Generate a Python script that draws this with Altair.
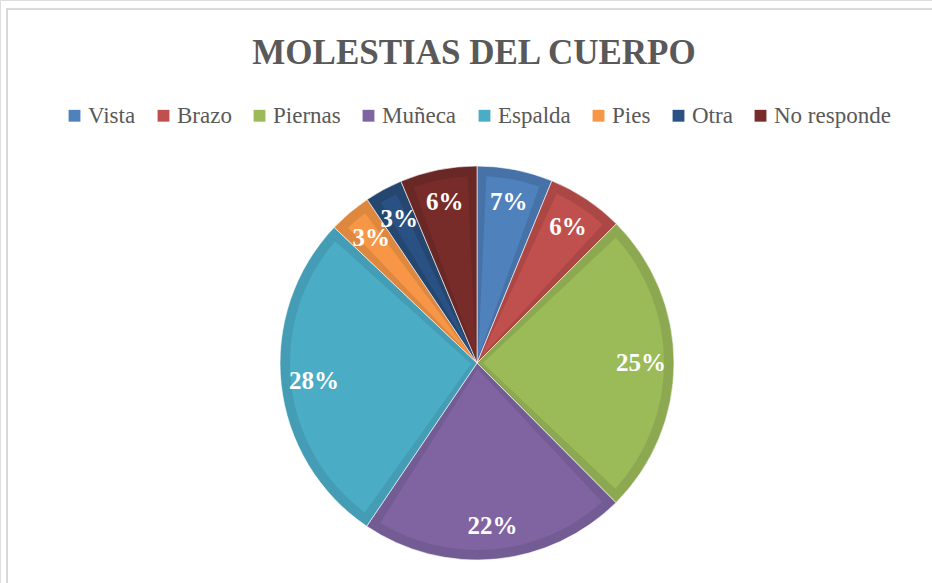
import altair as alt
import pandas as pd

TITLE = "MOLESTIAS DEL CUERPO"
categories = ["Vista", "Brazo", "Piernas", "Muñeca", "Espalda", "Pies", "Otra", "No responde"]
shares = [6.2, 6.3, 25.0, 21.9, 27.6, 3.5, 3.1, 6.3]
labels = ["7%", "6%", "25%", "22%", "28%", "3%", "3%", "6%"]
fill_colors = ["#4F81BD", "#C0504D", "#9BBB59", "#8064A2", "#4BACC6", "#F79646", "#2A5184", "#772C2A"]
edge_colors = ["#4672A8", "#AB4744", "#8CA951", "#735B93", "#449DB5", "#DE873F", "#24466F", "#692725"]

df = pd.DataFrame({
    "cat": categories,
    "value": shares,
    "label": labels,
    "edge": edge_colors,
    "idx": list(range(len(categories))),
})

CX, CY, R = 477, 363, 197
SERIF = "Liberation Serif"

base = alt.Chart(df).encode(
    theta=alt.Theta("value:Q", stack=True),
    order=alt.Order("idx:Q", sort="ascending"),
    x=alt.value(CX),
    y=alt.value(CY),
)

dark = base.mark_arc(outerRadius=R, stroke="#ffffff", strokeWidth=0.6).encode(
    color=alt.Color("edge:N", scale=None, legend=None)
)

light = base.mark_arc(outerRadius=R - 10, innerRadius=6, padAngle=0.1).encode(
    color=alt.Color(
        "cat:N",
        scale=alt.Scale(domain=categories, range=fill_colors),
        sort=categories,
        legend=alt.Legend(
            title=None,
            orient="none",
            legendX=63,
            legendY=104,
            direction="horizontal",
            columns=8,
            symbolType="square",
            symbolSize=140,
            symbolStrokeWidth=0,
            labelFont=SERIF,
            labelFontSize=23,
            labelColor="#595959",
            labelOffset=2,
            columnPadding=16,
        ),
    )
)

text = base.mark_text(
    radius=164, font=SERIF, fontSize=25, fontWeight="bold", color="white"
).encode(text="label:N")

title = alt.Chart(pd.DataFrame({"t": [TITLE]})).mark_text(
    font=SERIF, fontSize=35, fontWeight="bold", color="#595959", baseline="middle"
).encode(text="t:N", x=alt.value(474), y=alt.value(53))

frame_top = alt.Chart(pd.DataFrame({"a": [0]})).mark_rule(color="#D9D9D9", strokeWidth=2).encode(
    x=alt.value(6), x2=alt.value(932), y=alt.value(9)
)
frame_left = alt.Chart(pd.DataFrame({"a": [0]})).mark_rule(color="#D9D9D9", strokeWidth=2).encode(
    x=alt.value(7), y=alt.value(9), y2=alt.value(583)
)

chart = alt.layer(frame_top, frame_left, dark, light, text, title).resolve_scale(
    color="independent"
).properties(
    width=932, height=583, padding=0, autosize=alt.AutoSizeParams(type="none")
).configure_view(stroke=None).configure(background="white")

chart.save("out.html", embed_options={"renderer": "svg", "actions": False})
